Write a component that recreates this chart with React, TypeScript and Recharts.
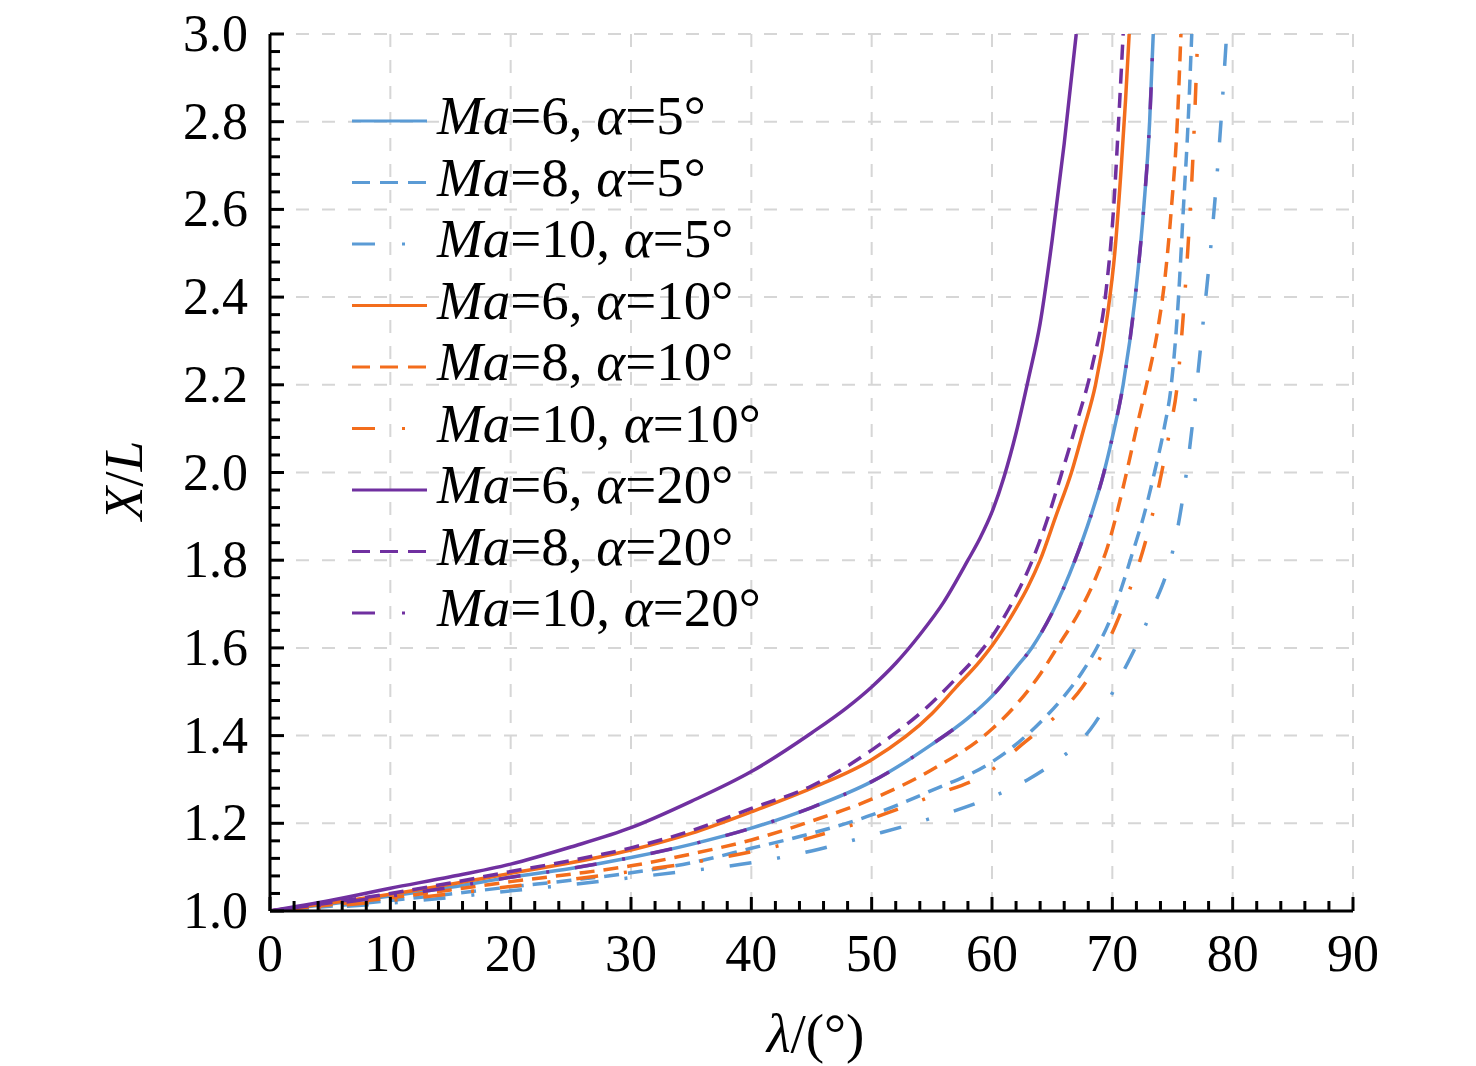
import { CartesianGrid, Legend, Line, LineChart, XAxis, YAxis } from 'recharts'

const SERIF = "'Liberation Serif', 'Times New Roman', serif"

// axis ticks (major labels; minor ticks drawn between them)
const X_MAJOR = [0, 10, 20, 30, 40, 50, 60, 70, 80, 90]
const X_MINOR_STEP = 2
const Y_MAJOR = [1.0, 1.2, 1.4, 1.6, 1.8, 2.0, 2.2, 2.4, 2.6, 2.8, 3.0]
const Y_MINOR_STEP = 0.04

// [λ (deg), X/L]
const MA6_A5: [number, number][] = [
  [0, 1], [5, 1.016], [10, 1.034], [15, 1.054], [20, 1.077], [25, 1.097], [30, 1.122], [35, 1.152],
  [40, 1.189], [45, 1.236], [50, 1.295], [55, 1.38], [58, 1.44], [60, 1.49], [62, 1.555], [63.3, 1.6],
  [65, 1.68], [66.9, 1.8], [68.2, 1.9], [69.3, 2.0], [70, 2.08], [70.9, 2.2], [71.9, 2.4], [72.6, 2.6],
  [73.1, 2.8], [73.4, 3.0],
]
const MA8_A5: [number, number][] = [
  [0, 1], [5, 1.011], [10, 1.024], [15, 1.039], [20, 1.055], [25, 1.07], [30, 1.087], [35, 1.11],
  [40, 1.143], [45, 1.177], [50, 1.219], [55, 1.275], [60, 1.34], [62, 1.38], [64, 1.43], [66, 1.49],
  [67.5, 1.545], [68.8, 1.605], [69.9, 1.67], [70.8, 1.74], [71.6, 1.81], [72.6, 1.9], [73.5, 2.0],
  [74.3, 2.1], [74.9, 2.2], [75.5, 2.4], [75.9, 2.6], [76.3, 2.8], [76.6, 3.0],
]
const MA10_A5: [number, number][] = [
  [0, 1], [5, 1.008], [10, 1.018], [15, 1.031], [20, 1.046], [25, 1.06], [30, 1.076], [35, 1.092],
  [40, 1.11], [45, 1.137], [50, 1.173], [55, 1.212], [60, 1.26], [63, 1.3], [65.5, 1.345], [67, 1.378],
  [68.2, 1.415], [69.4, 1.466], [70.6, 1.53], [71.9, 1.6], [73.5, 1.7], [74.5, 1.77], [75.3, 1.855],
  [75.9, 1.95], [76.4, 2.05], [76.9, 2.17], [77.5, 2.33], [78.2, 2.52], [78.9, 2.75], [79.5, 3.0],
]
const MA6_A10: [number, number][] = [
  [0, 1], [5, 1.018], [10, 1.038], [15, 1.061], [20, 1.086], [25, 1.11], [30, 1.139], [35, 1.177],
  [40, 1.226], [45, 1.28], [50, 1.345], [55, 1.45], [57, 1.51], [59, 1.57], [60, 1.605], [61, 1.645],
  [62, 1.69], [63, 1.74], [64, 1.8], [65.3, 1.9], [66.6, 2.0], [67.6, 2.097], [68.6, 2.2],
  [69.6, 2.36], [70.2, 2.5], [70.7, 2.68], [71.1, 2.85], [71.4, 3.0],
]
const MA8_A10: [number, number][] = [
  [0, 1], [5, 1.014], [10, 1.03], [15, 1.048], [20, 1.067], [25, 1.084], [30, 1.103], [35, 1.13],
  [40, 1.162], [45, 1.205], [50, 1.255], [55, 1.322], [60, 1.415], [62, 1.47], [64, 1.54], [65.4, 1.6],
  [67.6, 1.7], [68.7, 1.765], [69.6, 1.83], [70.4, 1.91], [71.1, 1.99], [72.0, 2.1], [73.0, 2.22],
  [73.8, 2.33], [74.4, 2.45], [74.9, 2.6], [75.4, 2.8], [75.7, 3.0],
]
const MA10_A10: [number, number][] = [
  [0, 1], [5, 1.011], [10, 1.024], [15, 1.039], [20, 1.056], [25, 1.072], [30, 1.09], [35, 1.11],
  [40, 1.135], [45, 1.168], [50, 1.211], [55, 1.262], [60, 1.322], [62.5, 1.38], [65.4, 1.447],
  [67.5, 1.51], [69.4, 1.6], [70.3, 1.654], [71.4, 1.73], [72.3, 1.8], [73.3, 1.9], [74.1, 2.0],
  [74.8, 2.1], [75.4, 2.2], [75.9, 2.36], [76.3, 2.52], [76.7, 2.72], [77.1, 3.0],
]
const MA6_A20: [number, number][] = [
  [0, 1], [5, 1.024], [10, 1.052], [15, 1.078], [20, 1.107], [25, 1.146], [30, 1.19], [35, 1.25],
  [40, 1.318], [45, 1.406], [48, 1.465], [50, 1.511], [52, 1.565], [54, 1.63], [56, 1.705],
  [58, 1.8], [59, 1.85], [60, 1.91], [61, 1.99], [62, 2.09], [63, 2.21], [64, 2.34], [65, 2.53],
  [66, 2.75], [67, 3.0],
]
const MA8_A20: [number, number][] = [
  [0, 1], [5, 1.019], [10, 1.04], [15, 1.064], [20, 1.09], [25, 1.115], [30, 1.144], [35, 1.183],
  [40, 1.234], [45, 1.285], [50, 1.367], [55, 1.475], [57, 1.53], [59, 1.59], [60, 1.626], [61, 1.67],
  [62, 1.72], [63.2, 1.79], [64.5, 1.885], [65.7, 1.99], [67, 2.11], [68.3, 2.24], [69.5, 2.42],
  [70.1, 2.6], [70.5, 2.79], [70.9, 3.0],
]
const MA10_A20: [number, number][] = [
  [0, 1], [5, 1.016], [10, 1.034], [15, 1.054], [20, 1.077], [25, 1.097], [30, 1.122], [35, 1.152],
  [40, 1.189], [45, 1.236], [50, 1.295], [55, 1.38], [58, 1.44], [60, 1.49], [62, 1.555], [63.3, 1.6],
  [65, 1.68], [66.9, 1.8], [68.2, 1.9], [69.3, 2.0], [70, 2.08], [70.9, 2.2], [71.9, 2.4], [72.6, 2.6],
  [73.1, 2.8], [73.4, 3.0],
]

const BLUE = '#5b9bd5'
const ORANGE = '#f36d1c'
const PURPLE = '#7030a0'
const SOLID = undefined
const DASH = '15 9'
const DASH_DOT = '22 26 3 26'
const LEGEND_DASH = '18 10'
const LEGEND_DASH_DOT = '23 27 3 40'

interface Series {
  key: string
  ma: number
  alpha: number
  color: string
  dash?: string
  legendDash?: string
  points: [number, number][]
}

const SERIES: Series[] = [
  { key: 'm6a5', ma: 6, alpha: 5, color: BLUE, dash: SOLID, legendDash: SOLID, points: MA6_A5 },
  { key: 'm8a5', ma: 8, alpha: 5, color: BLUE, dash: DASH, legendDash: LEGEND_DASH, points: MA8_A5 },
  { key: 'm10a5', ma: 10, alpha: 5, color: BLUE, dash: DASH_DOT, legendDash: LEGEND_DASH_DOT, points: MA10_A5 },
  { key: 'm6a10', ma: 6, alpha: 10, color: ORANGE, dash: SOLID, legendDash: SOLID, points: MA6_A10 },
  { key: 'm8a10', ma: 8, alpha: 10, color: ORANGE, dash: DASH, legendDash: LEGEND_DASH, points: MA8_A10 },
  { key: 'm10a10', ma: 10, alpha: 10, color: ORANGE, dash: DASH_DOT, legendDash: LEGEND_DASH_DOT, points: MA10_A10 },
  { key: 'm6a20', ma: 6, alpha: 20, color: PURPLE, dash: SOLID, legendDash: SOLID, points: MA6_A20 },
  { key: 'm8a20', ma: 8, alpha: 20, color: PURPLE, dash: DASH, legendDash: LEGEND_DASH, points: MA8_A20 },
  { key: 'm10a20', ma: 10, alpha: 20, color: PURPLE, dash: DASH_DOT, legendDash: LEGEND_DASH_DOT, points: MA10_A20 },
]

const steps = (from: number, to: number, step: number) => {
  const out: number[] = []
  const n = Math.round((to - from) / step)
  for (let i = 0; i <= n; i++) out.push(Math.round((from + i * step) * 1000) / 1000)
  return out
}
const X_TICKS = steps(X_MAJOR[0], X_MAJOR[X_MAJOR.length - 1], X_MINOR_STEP)
const Y_TICKS = steps(Y_MAJOR[0], Y_MAJOR[Y_MAJOR.length - 1], Y_MINOR_STEP)
const isMajor = (list: number[], v: number) => list.some((m) => Math.abs(m - v) < 1e-6)

// axes are 1px wide/tall so recharts still draws them; ticks point inward
function XTick(props: any) {
  const { x, y, payload } = props
  const major = isMajor(X_MAJOR, payload.value)
  return (
    <g>
      <line x1={x} x2={x} y1={y} y2={y - (major ? 14 : 10)} stroke="#000" strokeWidth={3} />
      {major && (
        <text x={x} y={y + 60} textAnchor="middle" fontSize={52} fontFamily={SERIF} fill="#000">
          {payload.value}
        </text>
      )}
    </g>
  )
}

function YTick(props: any) {
  const { x, y, payload } = props
  const major = isMajor(Y_MAJOR, payload.value)
  return (
    <g>
      <line x1={x} x2={x + (major ? 14 : 10)} y1={y} y2={y} stroke="#000" strokeWidth={3} />
      {major && (
        <text x={x - 22} y={y + 17} textAnchor="end" fontSize={52} fontFamily={SERIF} fill="#000">
          {payload.value.toFixed(1)}
        </text>
      )}
    </g>
  )
}

function XTitle(props: any) {
  const { x, y, width } = props.viewBox
  return (
    <text x={x + width / 2 + 4} y={y + 141} textAnchor="middle" fontSize={55} fontFamily={SERIF} fill="#000">
      <tspan fontStyle="italic">λ</tspan>/(°)
    </text>
  )
}

function YTitle(props: any) {
  const { x, y, width, height } = props.viewBox
  const cx = x + width - 128
  const cy = y + height / 2 + 8
  return (
    <text x={cx} y={cy} transform={`rotate(-90 ${cx} ${cy})`} textAnchor="middle" fontSize={55} fontFamily={SERIF} fill="#000">
      <tspan fontStyle="italic">X</tspan>/<tspan fontStyle="italic">L</tspan>
    </text>
  )
}

function LegendBox() {
  const rowH = 61.5
  return (
    <svg width={460} height={570} style={{ display: 'block' }}>
      {SERIES.map((s, i) => {
        const cy = 36 + i * rowH
        return (
          <g key={s.key}>
            <line x1={7} x2={82} y1={cy} y2={cy} stroke={s.color} strokeWidth={3} strokeDasharray={s.legendDash} />
            <text x={92} y={cy + 13} fontSize={55} fontFamily={SERIF} fill="#000">
              <tspan fontStyle="italic">Ma</tspan>={s.ma}, <tspan fontStyle="italic">α</tspan>={s.alpha}°
            </text>
          </g>
        )
      })}
    </svg>
  )
}

export default function App() {
  return (
    <div style={{ position: 'absolute', left: 0, top: 0, width: 1476, height: 1066, background: '#fff' }}>
      <LineChart width={1476} height={1066} margin={{ top: 34, right: 123, bottom: 154, left: 269 }}>
        <CartesianGrid
          stroke="#d6d6d6"
          strokeWidth={2}
          strokeDasharray="13 13"
          horizontalValues={Y_MAJOR.slice(1)}
          verticalValues={X_MAJOR.slice(1)}
        />
        <XAxis
          type="number"
          dataKey="x"
          domain={[0, 90]}
          ticks={X_TICKS}
          interval={0}
          allowDataOverflow
          height={1}
          tickSize={0}
          tickMargin={0}
          tickLine={false}
          axisLine={{ stroke: '#000', strokeWidth: 3 }}
          tick={XTick}
          label={<XTitle />}
        />
        <YAxis
          type="number"
          dataKey="y"
          domain={[1, 3]}
          ticks={Y_TICKS}
          interval={0}
          allowDataOverflow
          width={1}
          tickSize={0}
          tickMargin={0}
          tickLine={false}
          axisLine={{ stroke: '#000', strokeWidth: 3 }}
          tick={YTick}
          label={<YTitle />}
        />
        {SERIES.map((s) => (
          <Line
            key={s.key}
            data={s.points.map(([x, y]) => ({ x, y }))}
            dataKey="y"
            type="monotone"
            stroke={s.color}
            strokeWidth={3.5}
            strokeDasharray={s.dash}
            dot={false}
            activeDot={false}
            isAnimationActive={false}
          />
        ))}
        <Legend
          layout="vertical"
          align="center"
          verticalAlign="middle"
          content={() => <LegendBox />}
          wrapperStyle={{ left: 345, top: 85, width: 460, height: 570 }}
        />
      </LineChart>
    </div>
  )
}
